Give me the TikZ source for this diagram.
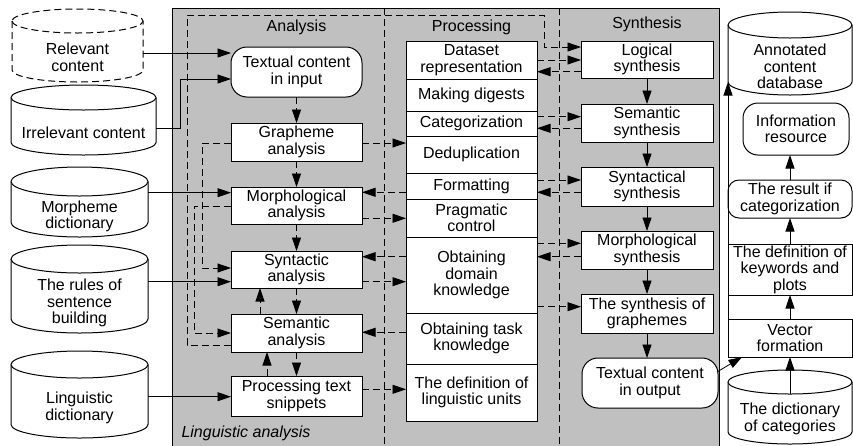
\documentclass[tikz,border=0pt]{standalone}
\usepackage{fontspec}
\setmainfont{Liberation Sans}
\usetikzlibrary{arrows.meta}
\definecolor{panel}{RGB}{192,192,192}

% cylinder (data store): style, name, x1, y1, x2, y2, cap half-height, text
\newcommand\cylshape[8]{%
  \pgfmathsetmacro\cylcx{(#3+#5)/2}%
  \pgfmathsetmacro\cylrx{(#5-#3)/2}%
  \pgfmathsetmacro\cylty{#4+#7}%
  \pgfmathsetmacro\cylby{#6-#7}%
  \pgfmathsetmacro\cyltxt{(#4+2*#7+#6)/2}%
  \draw[cyl,#1] (#3,\cylty) -- (#3,\cylby)
    arc[start angle=180,end angle=360,x radius=\cylrx pt,y radius=#7 pt]
    -- (#5,\cylty)
    arc[start angle=0,end angle=180,x radius=\cylrx pt,y radius=#7 pt] -- cycle;
  \draw[cyl,#1] (#3,\cylty)
    arc[start angle=180,end angle=360,x radius=\cylrx pt,y radius=#7 pt];
  \node[inner sep=0pt,outer sep=0pt,align=center,minimum width=2*\cylrx pt] (#2) at (\cylcx,\cyltxt) {#8};
  \coordinate (#2-top) at (\cylcx,\cylty+#7);
  \coordinate (#2-sw) at (#3,\cylby);
}

\begin{document}
\begin{tikzpicture}[x=1pt,y=-1pt,
  font=\fontsize{16}{16.5}\selectfont,
  blk/.style={draw,fill=white,line width=1pt,align=center,inner sep=0pt,outer sep=0pt},
  rnd/.style={blk,rounded corners=16pt},
  cyl/.style={fill=white,line width=1pt},
  arr/.style={-{Triangle[length=13.5pt,width=9pt]},line width=0.8pt},
  dsh/.style={dash pattern=on 7pt off 4pt},
  darr/.style={arr,dsh}]
\useasboundingbox (0,0) rectangle (853,445);

% shaded linguistic-analysis panel with its three columns
\draw[fill=panel,line width=0.8pt] (172,8) rectangle (719,448);
\draw[dsh,line width=0.8pt] (384,8) -- (384,448);
\draw[dsh,line width=0.8pt] (559,8) -- (559,448);
\node (tA) at (296.5,27) {Analysis};
\node (tP) at (471.5,27) {Processing};
\node (tS) at (647,24) {Synthesis};
\node[anchor=west,font=\fontsize{16}{16.5}\selectfont\itshape] (lbl) at (178,433) {Linguistic analysis};

% input stores
\cylshape{dsh}{relev}{12}{9}{143}{82}{12}{Relevant\\content}
\cylshape{}{irrel}{11}{85}{156}{155}{12.5}{Irrelevant content}
\cylshape{}{morphd}{11}{167}{148}{237}{14.5}{Morpheme\\dictionary}
\cylshape{}{rules}{11}{245}{148}{333}{14}{The rules of\\sentence\\building}
\cylshape{}{lingd}{11}{351}{148}{438}{13.5}{Linguistic\\dictionary}

% analysis column
\node[rnd,minimum width=131pt,minimum height=50pt] (tin) at (296.5,72) {Textual content\\in input};
\node[blk,minimum width=131pt,minimum height=38pt] (graph) at (296.5,142) {Grapheme\\analysis};
\node[blk,minimum width=131pt,minimum height=37pt] (morph) at (296.5,205.5) {Morphological\\analysis};
\node[blk,minimum width=131pt,minimum height=37pt] (synt) at (296.5,269.5) {Syntactic\\analysis};
\node[blk,minimum width=131pt,minimum height=38pt] (sem) at (296.5,333) {Semantic\\analysis};
\node[blk,minimum width=131pt,minimum height=40pt] (snip) at (296.5,396) {Processing text\\snippets};

% processing column
\node[blk,minimum width=131pt,minimum height=38pt] (ds) at (471.5,60) {Dataset\\representation};
\node[blk,minimum width=131pt,minimum height=32pt] (dig) at (471.5,95) {Making digests};
\node[blk,minimum width=131pt,minimum height=25pt] (cat) at (471.5,123.5) {Categorization};
\node[blk,minimum width=131pt,minimum height=37pt] (dedup) at (471.5,154.5) {Deduplication};
\node[blk,minimum width=131pt,minimum height=26pt] (fmt) at (471.5,186) {Formatting};
\node[blk,minimum width=131pt,minimum height=38pt] (prag) at (471.5,218) {Pragmatic\\control};
\node[blk,minimum width=131pt,minimum height=76pt] (odk) at (471.5,275) {Obtaining\\domain\\knowledge};
\node[blk,minimum width=131pt,minimum height=51pt] (otk) at (471.5,338.5) {Obtaining task\\knowledge};
\node[blk,minimum width=131pt,minimum height=57pt] (dlu) at (471.5,392.5) {The definition of\\linguistic units};

% synthesis column
\node[blk,minimum width=132pt,minimum height=37pt] (ls) at (647,59.5) {Logical\\synthesis};
\node[blk,minimum width=132pt,minimum height=38pt] (ss) at (647,123) {Semantic\\synthesis};
\node[blk,minimum width=132pt,minimum height=39pt] (sys) at (647,186.5) {Syntactical\\synthesis};
\node[blk,minimum width=132pt,minimum height=38pt] (ms) at (647,250) {Morphological\\synthesis};
\node[blk,minimum width=132pt,minimum height=39pt] (sg) at (647,313.5) {The synthesis of\\graphemes};
\node[rnd,minimum width=136pt,minimum height=50pt] (tout) at (650,383) {Textual content\\in output};

% output side
\cylshape{}{acd}{728}{12}{852}{95}{13}{Annotated\\content\\database}
\node[blk,rounded corners=15pt,minimum width=106pt,minimum height=52pt] (info) at (796,129) {Information\\resource};
\node[blk,rounded corners=11pt,minimum width=124pt,minimum height=38pt] (res) at (790,199) {The result if\\categorization};
\node[blk,minimum width=124pt,minimum height=51pt] (kw) at (790,269.5) {The definition of\\keywords and\\plots};
\node[blk,minimum width=124pt,minimum height=38pt] (vec) at (790,338) {Vector\\formation};
\cylshape{}{dcat}{728}{370}{852}{444}{12}{The dictionary\\of categories}

% inputs into the analysis column
\draw[arr] ([yshift=4.5pt]relev.east) -- ([yshift=19pt]tin.west);
\draw[arr] ([yshift=4.5pt]irrel.east) -- ++(24,0) |- ([yshift=-7pt]tin.west);
\draw[arr] ([yshift=23.8pt]morphd.east) -- ([yshift=12.8pt]morph.west);
\draw[arr] ([yshift=21.3pt]rules.east) -- ([yshift=-12.2pt]synt.west);
\draw[arr] ([yshift=11.3pt]lingd.east) -- ([yshift=-0.7pt]snip.west);

% analysis chain
\draw[darr] (tin.south) -- (graph.north);
\draw[darr] (graph.south) -- (morph.north);
\draw[darr] (morph.south) -- (synt.north);
\draw[darr] (synt.south) -- (sem.north);
\draw[darr] (sem.south) -- (snip.north);
\draw[darr] ([xshift=-36.5pt]sem.north) -- ([xshift=-36.5pt]synt.south);
\draw[darr] ([xshift=-29.5pt]snip.north) -- ([xshift=-29.5pt]sem.south);

% feedback loops on the left of the analysis column
\coordinate (fbA) at (187,15);
\coordinate (fbB) at (544,15);
\draw[darr] ([yshift=-1pt]graph.west) -- ++(-29,0) |- ([yshift=1.5pt]synt.west);
\draw[darr] ([yshift=-0.5pt]morph.west) -- ++(-37,0) |- (sem.west);
\draw[darr] ([yshift=-12pt]sem.west) -| (fbA) -- (fbB) |- ([yshift=12.5pt]ls.west);

% analysis <-> processing
\draw[darr] ([yshift=-1pt]graph.east) -- ([yshift=11.5pt]dedup.west);
\draw[darr] ([yshift=-6.3pt]fmt.west) -- ([yshift=13.2pt]morph.east);
\draw[darr] ([yshift=-12.8pt]morph.east) -- ([yshift=-0.3pt]prag.west);
\draw[darr] ([yshift=18.3pt]odk.west) -- ([yshift=12.8pt]synt.east);
\draw[darr] ([yshift=-12.2pt]synt.east) -- ([yshift=-6.7pt]odk.west);
\draw[darr] ([yshift=6.2pt]otk.west) -- ([yshift=0.7pt]sem.east);
\draw[darr] ([yshift=6.7pt]snip.east) -- ([yshift=3.2pt]dlu.west);

% processing <-> synthesis
\draw[darr] (ds.east) -- ([yshift=-0.5pt]ls.west);
\draw[darr] ([yshift=-12.2pt]ls.west) -- ([yshift=-11.7pt]ds.east);
\draw[darr] ([yshift=6.8pt]cat.east) -- ([yshift=6.3pt]ss.west);
\draw[darr] ([yshift=-5.3pt]ss.west) -- ([yshift=-4.8pt]cat.east);
\draw[darr] ([yshift=6pt]fmt.east) -- ([yshift=6.5pt]sys.west);
\draw[darr] ([yshift=-5.8pt]sys.west) -- ([yshift=-6.3pt]fmt.east);
\draw[darr] ([yshift=31.7pt]odk.east) -- ([yshift=6.7pt]ms.west);
\draw[darr] ([yshift=-6.7pt]ms.west) -- ([yshift=18.3pt]odk.east);
\draw[darr] ([yshift=-31.7pt]odk.east) -- ([yshift=6.8pt]sg.west);

% synthesis chain
\draw[arr] (ls.south) -- (ss.north);
\draw[arr] (ss.south) -- (sys.north);
\draw[arr] (sys.south) -- (ms.north);
\draw[arr] (ms.south) -- (sg.north);
\draw[arr] (sg.south) -- (sg.south |- tout.north);

% output side
\draw[arr] ([xshift=-1pt,yshift=11pt]tout.east) -- ([xshift=14pt]vec.south west);
\draw[arr] (dcat-top) -- (vec.south);
\draw[arr] (vec.north) -- (kw.south);
\draw[arr] (kw.north) -- (res.south);
\draw[arr] (res.north) -- (res.north |- info.south);
\draw[arr] (vec.south west) -- (acd-sw);
\end{tikzpicture}
\end{document}
